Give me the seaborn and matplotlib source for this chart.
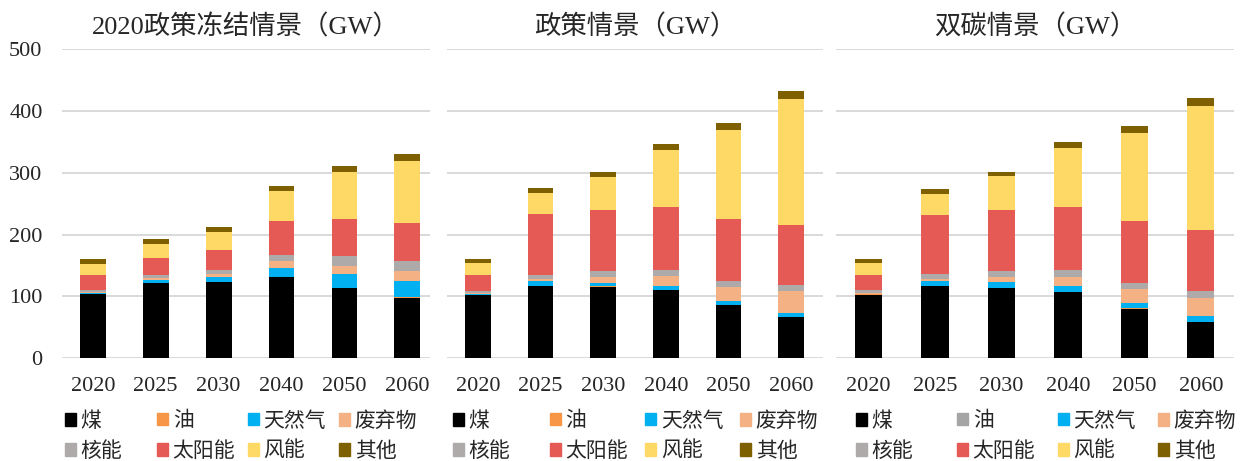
import matplotlib
matplotlib.use('Agg')
import matplotlib.pyplot as plt
import matplotlib.patches as mpatches
import seaborn as sns
import pandas as pd
import numpy as np

# ── data (GW) ──────────────────────────────────────────────────────
years = ['2020', '2025', '2030', '2040', '2050', '2060']
sources = ['煤', '油', '天然气', '废弃物', '核能', '太阳能', '风能', '其他']

frozen = {
    '煤':     [103, 121.5, 123, 131, 113.5, 98],
    '油':     [0.5, 0.5, 0.5, 0.5, 0.5, 0.5],
    '天然气': [1.5, 4, 7.5, 15, 22.5, 27],
    '废弃物': [2, 4, 5, 10, 13, 15.5],
    '核能':   [3, 5, 6, 11, 15.5, 17],
    '太阳能': [24, 27, 32.5, 54, 61, 61],
    '风能':   [18, 23, 29, 49, 75, 101],
    '其他':   [8, 8, 8.5, 8, 10, 10.5],
}
policy = {
    '煤':     [102, 117, 115.5, 110, 86, 66],
    '油':     [0.5, 0.5, 0.5, 0.5, 0.5, 0.5],
    '天然气': [1.5, 7, 6, 6.5, 6, 6],
    '废弃物': [2, 4, 9.5, 16, 23, 36],
    '核能':   [2, 6.5, 10, 10, 10, 10],
    '太阳能': [26, 98, 99, 102.5, 99, 97],
    '风能':   [20, 35, 53, 92, 144.5, 205],
    '其他':   [6, 8, 8, 10, 11.5, 12],
}
dual_carbon = {
    '煤':     [102.5, 116.5, 113, 106.5, 80, 58],
    '油':     [0.5, 0.5, 0.5, 0.5, 0.5, 0.5],
    '天然气': [1.5, 7, 9, 9, 8, 9],
    '废弃物': [1, 4, 8.5, 15, 23, 30],
    '核能':   [4.5, 7.5, 10, 11, 10, 11.5],
    '太阳能': [24, 96.5, 99.5, 102.5, 100, 98],
    '风能':   [20, 33.5, 54.5, 95.5, 143.5, 202],
    '其他':   [7, 8, 7, 10.5, 11, 12.5],
}
titles = ['2020政策冻结情景（GW）', '政策情景（GW）', '双碳情景（GW）']

colors = {
    '煤': '#000000', '油': '#F79646', '天然气': '#00B0F0', '废弃物': '#F4B183',
    '核能': '#AEAAAA', '太阳能': '#E65A55', '风能': '#FFD966', '其他': '#7F6000',
}
# third panel's legend shows 油 in grey
legend_oil = ['#F79646', '#F79646', '#A5A5A5']

# ── setup ──────────────────────────────────────────────────────────
sns.set_theme(style='white')
plt.rcParams['font.family'] = ['Liberation Serif', 'Noto Sans CJK SC']

W, H = 1241, 461
fig = plt.figure(figsize=(W / 100, H / 100), dpi=100)

# axes extents in pixels (left, right)
extents = [(62, 430), (447, 823), (836, 1234)]
xlims = [(-0.49, 5.36), (-0.495, 5.51), (-0.49, 5.5)]
legend_x = [[65, 157, 248, 339], [453, 550, 645, 740], [856, 957, 1058, 1158]]
y_bot, y_top = 358, 49.5

for k, data in enumerate([frozen, policy, dual_carbon]):
    l, r = extents[k]
    ax = fig.add_axes([l / W, (H - y_bot) / H, (r - l) / W, (y_bot - y_top) / H])

    df = pd.DataFrame(data)
    df['year'] = years
    cum = df[sources].cumsum(axis=1)

    # draw cumulative totals from top layer down so lower layers cover
    for src in reversed(sources):
        sns.barplot(x=df['year'], y=cum[src], order=years, color=colors[src],
                    saturation=1, width=0.41, linewidth=0, ax=ax)

    ax.set_ylim(0, 500)
    ax.set_xlim(*xlims[k])
    ax.set_yticks([0, 100, 200, 300, 400, 500])
    ax.yaxis.grid(True, color='#D9D9D9', linewidth=1.4)
    ax.set_axisbelow(True)
    for s in ax.spines.values():
        s.set_visible(False)
    ax.set_xlabel('')
    ax.set_ylabel('')
    ax.tick_params(axis='x', length=0, pad=14, labelsize=16, colors='#262626')
    ax.tick_params(axis='y', length=0, pad=14, labelsize=16, colors='#262626')
    if k > 0:
        ax.set_yticklabels([])
    ax.set_title(titles[k], fontsize=19, pad=11, color='#262626')

    # legend: four columns of two entries each
    for j in range(4):
        hs = []
        for src in [sources[j], sources[j + 4]]:
            c = legend_oil[k] if src == '油' else colors[src]
            hs.append(mpatches.Patch(color=c, label=src))
        leg = fig.legend(handles=hs, loc='upper left',
                         bbox_to_anchor=(legend_x[k][j] / W, (H - 412) / H),
                         bbox_transform=fig.transFigure, frameon=False,
                         fontsize=15, handlelength=0.55, handleheight=0.55,
                         handletextpad=0.2, labelspacing=0.5,
                         borderpad=0, borderaxespad=0)
        for t in leg.get_texts():
            t.set_color('#262626')

fig.savefig('out.png', dpi=100)
